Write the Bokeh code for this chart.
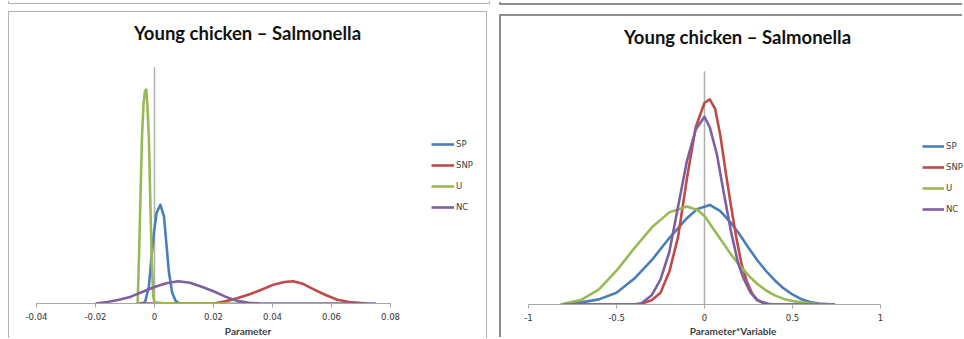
from bokeh.plotting import figure
from bokeh.models import Legend, LegendItem, FixedTicker, Range1d, Spacer, Label
from bokeh.layouts import row, column
from bokeh.embed import file_html
from bokeh.resources import INLINE

title_text = "Young chicken \u2013 Salmonella"
series_names = ["SP", "SNP", "U", "NC"]
series_colors = ["#4A7EBB", "#BE4B48", "#98B954", "#7D60A0"]
y_top = 100  # top of the (unlabelled) density axis

# ---------------- Left chart: Parameter ----------------
left_ticks = [-0.04, -0.02, 0, 0.02, 0.04, 0.06, 0.08]
left_tick_labels = ["-0.04", "-0.02", "0", "0.02", "0.04", "0.06", "0.08"]
left_xlabel = "Parameter"

left_sp_x = [-0.0050, -0.0036, -0.0031, -0.0019, -0.0011, -0.0002, 0.0007, 0.0020,
             0.0032, 0.0041, 0.0049, 0.0060, 0.0071, 0.0082, 0.0090]
left_sp_y = [0, 0.3, 1.0, 7.3, 18.6, 29.8, 38.3, 41.8,
             37.0, 24.3, 13.1, 4.6, 1.3, 0.2, 0]

left_snp_x = [-0.006, 0.020, 0.024, 0.028, 0.032, 0.036, 0.040, 0.044, 0.047,
              0.050, 0.054, 0.058, 0.062, 0.066, 0.070, 0.072]
left_snp_y = [0, 0, 0.9, 2.2, 3.8, 5.7, 7.8, 9.1, 9.4,
              8.5, 6.0, 3.6, 1.6, 0.6, 0.2, 0]

left_u_x = [-0.0060, -0.0057, -0.0052, -0.0047, -0.0042, -0.0037, -0.0032, -0.0028,
            -0.0024, -0.0019, -0.0014, -0.0009, -0.0004, 0.0000, 0.0040, 0.0310]
left_u_y = [0, 0.5, 22, 48, 72, 85, 90, 90.6,
            84, 70, 42, 17, 3, 0.5, 0, 0]

left_nc_x = [-0.020, -0.016, -0.012, -0.008, -0.004, 0.000, 0.004, 0.008, 0.012,
             0.016, 0.020, 0.024, 0.028, 0.032, 0.036, 0.075]
left_nc_y = [0, 0.6, 1.6, 2.9, 5.0, 7.0, 8.6, 9.4, 8.8,
             7.1, 5.2, 2.9, 1.1, 0.3, 0, 0]

# ---------------- Right chart: Parameter*Variable ----------------
right_ticks = [-1, -0.5, 0, 0.5, 1]
right_tick_labels = ["-1", "-0.5", "0", "0.5", "1"]
right_xlabel = "Parameter*Variable"

right_sp_x = [-0.82, -0.70, -0.60, -0.50, -0.40, -0.30, -0.20, -0.10, -0.04, 0.03,
              0.09, 0.15, 0.20, 0.25, 0.30, 0.35, 0.40, 0.45, 0.50, 0.55, 0.60, 0.65, 0.74]
right_sp_y = [0, 0.9, 2.2, 5.0, 11.0, 19.0, 28.5, 37.0, 41.0, 42.7,
              40.0, 35.0, 30.0, 24.3, 19.0, 14.3, 10.3, 6.9, 4.3, 2.3, 1.1, 0.4, 0]

right_snp_x = [-0.80, -0.40, -0.35, -0.30, -0.25, -0.20, -0.15, -0.10, -0.05, 0.00, 0.03,
               0.06, 0.09, 0.12, 0.15, 0.18, 0.21, 0.24, 0.27, 0.30, 0.33, 0.37, 0.74]
right_snp_y = [0, 0, 0.5, 1.8, 5.0, 14.0, 29.0, 54.0, 76.0, 86.5, 88.0,
               84.0, 72.5, 57.0, 42.5, 29.0, 17.5, 10.0, 4.8, 2.0, 0.7, 0, 0]

right_u_x = [-0.82, -0.70, -0.60, -0.50, -0.40, -0.30, -0.20, -0.10, -0.04, 0.00,
             0.05, 0.10, 0.15, 0.20, 0.25, 0.30, 0.35, 0.40, 0.45, 0.50, 0.55, 0.60, 0.65, 0.73]
right_u_y = [0, 2.0, 6.5, 14.5, 24.0, 33.0, 39.5, 42.0, 40.5, 38.0,
             32.5, 27.0, 21.5, 16.8, 12.5, 8.8, 6.0, 3.9, 2.4, 1.5, 0.9, 0.5, 0.2, 0]

right_nc_x = [-0.80, -0.40, -0.36, -0.30, -0.25, -0.20, -0.15, -0.10, -0.05, 0.00, 0.03,
              0.07, 0.11, 0.15, 0.19, 0.22, 0.26, 0.30, 0.36, 0.40, 0.74]
right_nc_y = [0, 0, 0.4, 4.0, 10.7, 22.5, 42.0, 61.5, 75.0, 80.5, 76.0,
              64.5, 47.7, 31.5, 18.0, 11.5, 5.3, 1.8, 0.3, 0, 0]


def lin(p, p0, p1, v0, v1):
    return v0 + (p - p0) * (v1 - v0) / (p1 - p0)


def make_chart(fig_left, fig_top, width, height, axis_px, axis_py, bottom_border,
               ticks, tick_labels, xlabel, series, title_pos, legend_px, glyph_w,
               label_standoff):
    x0, x1 = ticks[0], ticks[-1]
    frame_left, frame_right = fig_left, fig_left + width
    frame_top, frame_bottom = fig_top, fig_top + height - bottom_border
    xr = Range1d(lin(frame_left, axis_px[0], axis_px[1], x0, x1),
                 lin(frame_right, axis_px[0], axis_px[1], x0, x1))
    yr = Range1d(lin(frame_bottom, axis_py[0], axis_py[1], 0, y_top),
                 lin(frame_top, axis_py[0], axis_py[1], 0, y_top))

    p = figure(width=width, height=height, x_range=xr, y_range=yr,
               output_backend="svg", toolbar_location=None, y_axis_location=None,
               min_border_left=0, min_border_right=0, min_border_top=0,
               min_border_bottom=bottom_border)
    p.outline_line_color = None
    p.grid.visible = False
    p.background_fill_color = "white"
    p.border_fill_color = "white"

    ax = p.xaxis[0]
    ax.bounds = (x0, x1)
    ax.ticker = FixedTicker(ticks=ticks)
    ax.major_label_overrides = {t: l for t, l in zip(ticks, tick_labels)}
    ax.axis_line_color = "#a6a6a6"
    ax.axis_line_width = 1.2
    ax.major_tick_line_color = "#a6a6a6"
    ax.major_tick_in = 0
    ax.major_tick_out = 4
    ax.minor_tick_line_color = None
    ax.major_label_text_font = "DejaVu Sans"
    ax.major_label_text_font_size = "8.5px"
    ax.major_label_text_color = "#333333"
    ax.major_label_standoff = 5
    ax.axis_label = xlabel
    ax.axis_label_text_font = "Lato"
    ax.axis_label_text_font_style = "bold"
    ax.axis_label_text_font_size = "10px"
    ax.axis_label_text_color = "#404040"
    ax.axis_label_standoff = label_standoff

    # vertical value axis line crossing at x = 0
    p.segment(x0=[0], y0=[0], x1=[0], y1=[y_top], line_color="#b0b0b0", line_width=1.5)

    items = []
    for name, color, (xs, ys) in zip(series_names, series_colors, series):
        r = p.line(xs, ys, line_color=color, line_width=2.6, line_join="round")
        items.append(LegendItem(label=name, renderers=[r]))

    tx = lin(title_pos[0], axis_px[0], axis_px[1], x0, x1)
    ty = lin(title_pos[1], axis_py[0], axis_py[1], 0, y_top)
    p.add_layout(Label(x=tx, y=ty, text=title_text, text_align="center",
                       text_baseline="middle", text_font="Lato", text_font_style="bold",
                       text_font_size="18.5px", text_color="#111111"))

    legend = Legend(items=items,
                    location=(legend_px[0] - frame_left, frame_bottom - legend_px[1]),
                    glyph_width=glyph_w, glyph_height=18, label_height=18, spacing=3,
                    padding=0, margin=0, label_standoff=2,
                    border_line_color=None, background_fill_alpha=0,
                    label_text_font="DejaVu Sans", label_text_font_size="8.5px",
                    label_text_color="#404040")
    p.add_layout(legend, "center")
    return p


# left panel: page x 9..486, y 12..339 ; axis -0.04 at x=36, 0.08 at x=390 ; y=0 at 304, top at 67
left = make_chart(9, 12, 477, 327, (36, 390), (304, 67), 35,
                  left_ticks, left_tick_labels, left_xlabel,
                  [(left_sp_x, left_sp_y), (left_snp_x, left_snp_y),
                   (left_u_x, left_u_y), (left_nc_x, left_nc_y)],
                  (247, 33), (431, 217), 23, 2)
left.styles = {"box-shadow": "-1px -1px 0 0 #b3b3b3, 1px -1px 0 0 #b3b3b3"}

# right panel: page x 501..964, y 16..339 ; axis -1 at x=528, 1 at x=880 ; y=0 at 305, top at 71
right = make_chart(501, 16, 463, 323, (528, 880), (305, 71), 34,
                   right_ticks, right_tick_labels, right_xlabel,
                   [(right_sp_x, right_sp_y), (right_snp_x, right_snp_y),
                    (right_u_x, right_u_y), (right_nc_x, right_nc_y)],
                   (737, 37), (922, 219), 22, 1)
right.styles = {"box-shadow": "-2px -2px 0 0 #8f8f8f"}

# bottoms of the chart boxes above (edge of the screenshot)
left_strip = Spacer(width=480, height=3,
                    styles={"box-shadow": "-1px 1px 0 0 #b3b3b3, 1px 1px 0 0 #b3b3b3"})
right_strip = Spacer(width=463, height=3, styles={"box-shadow": "-2px 2px 0 0 #8f8f8f"})

layout = row(
    Spacer(width=9, height=10),
    column(left_strip, Spacer(width=10, height=9), left),
    Spacer(width=12, height=10),
    column(right_strip, Spacer(width=10, height=13), right),
)

open("out.html", "w").write(file_html(layout, INLINE))
